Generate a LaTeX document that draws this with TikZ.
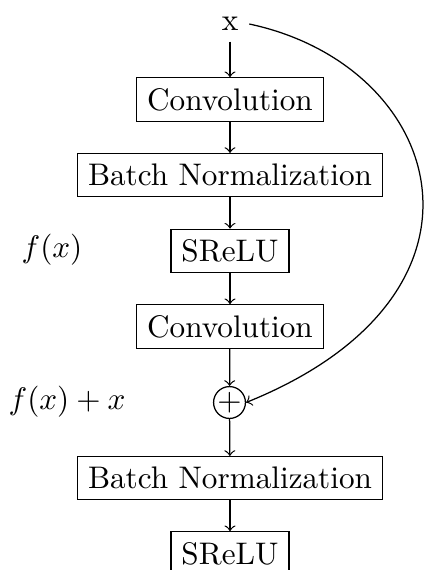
\documentclass[tikz,border=0pt]{standalone}
\usetikzlibrary{arrows}
\begin{document}
\begin{tikzpicture}[x=0.3205pt,y=-0.3205pt,
  blk/.style={draw,rectangle},
  lbl/.style={inner sep=0pt},
  arr/.style={->}]
\useasboundingbox (0,0) rectangle (424,570);
\node (x) at (230,24) {x};
\node[blk] (conv1) at (230,99.5) {Convolution};
\node[blk] (bn1) at (230,175) {Batch Normalization};
\node[blk] (sr1) at (230,251) {SReLU};
\node[blk] (conv2) at (230,326.5) {Convolution};
\node[draw,circle,inner sep=0pt] (plus) at (229.5,402.5) {$+$};
\node[blk] (bn2) at (230,478) {Batch Normalization};
\node[blk] (sr2) at (230,553.5) {SReLU};
\node[lbl] (fx) at (52,250) {$f(x)$};
\node[lbl] (fxx) at (67,402) {$f(x)+x$};
\draw[arr] (x) -- (conv1);
\draw[arr] (conv1) -- (bn1);
\draw[arr] (bn1) -- (sr1);
\draw[arr] (sr1) -- (conv2);
\draw[arr] (conv2) -- (plus);
\draw[arr] (plus) -- (bn2);
\draw[arr] (bn2) -- (sr2);
\draw[arr] (x.east) .. controls +(12:200) and +(-22:290) .. (plus.east);
\end{tikzpicture}
\end{document}
